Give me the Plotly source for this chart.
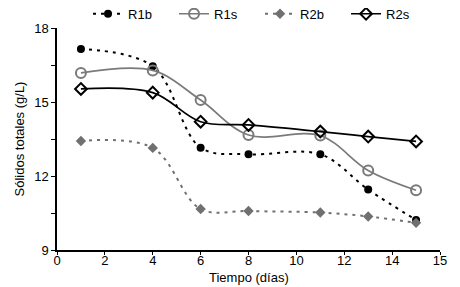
import plotly.graph_objects as go

days = [1, 4, 6, 8, 11, 13, 15]
r1b = [17.15, 16.45, 13.15, 12.88, 12.88, 11.45, 10.22]
r1s = [16.18, 16.28, 15.08, 13.66, 13.64, 12.22, 11.42]
r2b = [13.42, 13.14, 10.66, 10.58, 10.52, 10.36, 10.10]
r2s = [15.53, 15.38, 14.2, 14.07, 13.8, 13.6, 13.4]

x_tickvals = [0, 2, 4, 6, 8, 10, 12, 14, 16]
x_ticktext = ["0", "2", "4", "6", "8", "10", "12", "14", "15"]
y_tickvals = [9, 12, 15, 18]

font = "Liberation Sans, Arial, sans-serif"
fig = go.Figure()

fig.add_trace(go.Scatter(x=days, y=r1b, name="R1b", mode="lines+markers",
    line=dict(color="black", width=2, dash="3px,5px", shape="spline", smoothing=1),
    marker=dict(symbol="circle", size=8, color="black")))
fig.add_trace(go.Scatter(x=days, y=r1s, name="R1s", mode="lines+markers",
    line=dict(color="#7a7a7a", width=1.7, shape="spline", smoothing=1),
    marker=dict(symbol="circle-open", size=10, color="#7a7a7a", line=dict(width=2))))
fig.add_trace(go.Scatter(x=days, y=r2b, name="R2b", mode="lines+markers",
    line=dict(color="#707070", width=2, dash="3px,5px", shape="spline", smoothing=1),
    marker=dict(symbol="diamond", size=8, color="#707070")))
fig.add_trace(go.Scatter(x=days, y=r2s, name="R2s", mode="lines+markers",
    line=dict(color="black", width=1.7, shape="spline", smoothing=1),
    marker=dict(symbol="diamond-open", size=9, color="black", line=dict(width=2))))

fig.update_layout(
    width=452, height=279,
    margin=dict(l=49, r=20, t=20, b=37, autoexpand=False),
    paper_bgcolor="white", plot_bgcolor="white",
    font=dict(family=font, size=13, color="black"),
    showlegend=True,
    legend=dict(orientation="h", x=0.081, y=1.064, xanchor="left", yanchor="middle",
                font=dict(size=13), entrywidth=41, entrywidthmode="pixels",
                tracegroupgap=0, bgcolor="rgba(0,0,0,0)"),
    annotations=[dict(text="Tiempo (días)", xref="paper", yref="paper",
                      x=0.5, y=-0.124, xanchor="center", yanchor="middle",
                      showarrow=False, font=dict(size=13))],
)
fig.update_xaxes(range=[0, 16], tickvals=x_tickvals, ticktext=x_ticktext,
    showline=True, linecolor="black", linewidth=1.5, ticks="outside",
    ticklen=3, tickcolor="black", showgrid=False, zeroline=False, automargin=False,
    ticklabelstandoff=-5)
fig.update_yaxes(range=[9, 18], tickvals=y_tickvals,
    showline=True, linecolor="black", linewidth=1.5, ticks="outside",
    ticklen=4, tickcolor="black", showgrid=False, zeroline=False, automargin=False,
    minor=dict(tickvals=[10.5, 13.5, 16.5], ticks="outside", ticklen=4, tickcolor="black"),
    title=dict(text="Sólidos totales (g/L)", font=dict(size=13), standoff=7))

fig.write_html("out.html")
